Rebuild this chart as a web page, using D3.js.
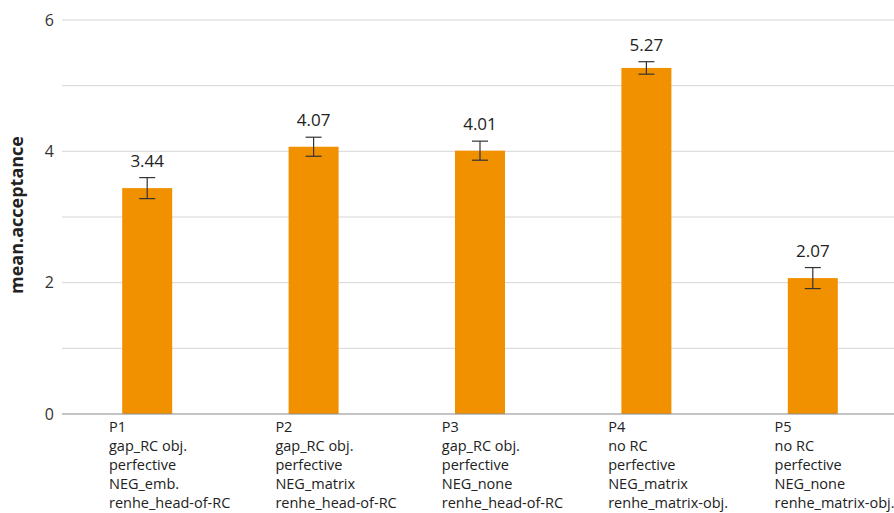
<!DOCTYPE html>
<html>
<head>
<meta charset="utf-8">
<script src="https://cdn.jsdelivr.net/npm/d3@7"></script>
<style>
  body { margin: 0; background: #fff; }
  svg { display: block; font-family: "Open Sans", "Noto Sans", sans-serif; }
</style>
</head>
<body>
<div id="chart"></div>
<script>
var categories = ["P1", "P2", "P3", "P4", "P5"];
var labelLines = [
    ["P1", "gap_RC obj.", "perfective", "NEG_emb.", "renhe_head-of-RC"],
    ["P2", "gap_RC obj.", "perfective", "NEG_matrix", "renhe_head-of-RC"],
    ["P3", "gap_RC obj.", "perfective", "NEG_none", "renhe_head-of-RC"],
    ["P4", "no RC", "perfective", "NEG_matrix", "renhe_matrix-obj."],
    ["P5", "no RC", "perfective", "NEG_none", "renhe_matrix-obj."]
];
var meanValues = [3.44, 4.07, 4.01, 5.27, 2.07];
var errValues = [0.16, 0.145, 0.145, 0.095, 0.16];
var yTicks = [0, 2, 4, 6];

var width = 894, height = 513;
var margin = {top: 20, right: 0, bottom: 99, left: 62};

var svg = d3.select("#chart").append("svg")
    .attr("width", width)
    .attr("height", height);

var x = d3.scaleBand()
    .domain(categories)
    .range([margin.left, width - margin.right])
    .paddingInner(0).paddingOuter(0);

var y = d3.scaleLinear()
    .domain([0, 6])
    .range([height - margin.bottom, margin.top]);

var barWidth = 50;

// gridlines every 1 unit
svg.append("g")
    .selectAll("line")
    .data(d3.range(1, 7))
    .enter().append("line")
    .attr("x1", margin.left)
    .attr("x2", width)
    .attr("y1", d => y(d))
    .attr("y2", d => y(d))
    .attr("stroke", "#d6d6d6")
    .attr("stroke-width", 1);

// tick labels
svg.append("g")
    .selectAll("text")
    .data(yTicks)
    .enter().append("text")
    .attr("x", 54)
    .attr("y", d => y(d))
    .attr("dy", "0.35em")
    .attr("text-anchor", "end")
    .attr("font-size", 16)
    .attr("fill", "#333")
    .text(d => d);

// y title
svg.append("text")
    .attr("transform", "translate(23," + (y(3) - 2) + ") rotate(-90)")
    .attr("text-anchor", "middle")
    .attr("font-size", 18)
    .attr("font-weight", "bold")
    .attr("fill", "#222")
    .text("mean.acceptance");

// bars
var cx = function(i) { return x(categories[i]) + x.bandwidth() / 2 + 2; };

svg.append("g")
    .selectAll("rect")
    .data(meanValues)
    .enter().append("rect")
    .attr("x", (d, i) => cx(i) - barWidth / 2)
    .attr("width", barWidth)
    .attr("y", d => y(d))
    .attr("height", d => y(0) - y(d))
    .attr("fill", "#f29100");

// zero axis line
svg.append("line")
    .attr("x1", margin.left)
    .attr("x2", width)
    .attr("y1", y(0))
    .attr("y2", y(0))
    .attr("stroke", "#8a8a8a")
    .attr("stroke-width", 1.2);

// error bars
var eb = svg.append("g")
    .selectAll("g")
    .data(meanValues)
    .enter().append("g")
    .attr("stroke", "#333")
    .attr("stroke-width", 1.2);

eb.append("line")
    .attr("x1", (d, i) => cx(i)).attr("x2", (d, i) => cx(i))
    .attr("y1", (d, i) => y(d + errValues[i]))
    .attr("y2", (d, i) => y(d - errValues[i]));
eb.append("line")
    .attr("x1", (d, i) => cx(i) - 8).attr("x2", (d, i) => cx(i) + 8)
    .attr("y1", (d, i) => y(d + errValues[i]))
    .attr("y2", (d, i) => y(d + errValues[i]));
eb.append("line")
    .attr("x1", (d, i) => cx(i) - 8).attr("x2", (d, i) => cx(i) + 8)
    .attr("y1", (d, i) => y(d - errValues[i]))
    .attr("y2", (d, i) => y(d - errValues[i]));

// value labels
svg.append("g")
    .selectAll("text")
    .data(meanValues)
    .enter().append("text")
    .attr("x", (d, i) => cx(i))
    .attr("y", (d, i) => y(d + errValues[i]) - 11)
    .attr("text-anchor", "middle")
    .attr("font-size", 17)
    .attr("fill", "#222")
    .text(d => d.toFixed(2));

// category labels
var lab = svg.append("g")
    .selectAll("text")
    .data(labelLines)
    .enter().append("text")
    .attr("x", (d, i) => x(categories[i]) + 47)
    .attr("y", y(0) + 18)
    .attr("font-size", 14.5)
    .attr("fill", "#222");

lab.selectAll("tspan")
    .data(d => d)
    .enter().append("tspan")
    .attr("x", function() { return d3.select(this.parentNode).attr("x"); })
    .attr("dy", (d, j) => j === 0 ? 0 : 19)
    .text(d => d);
</script>
</body>
</html>
